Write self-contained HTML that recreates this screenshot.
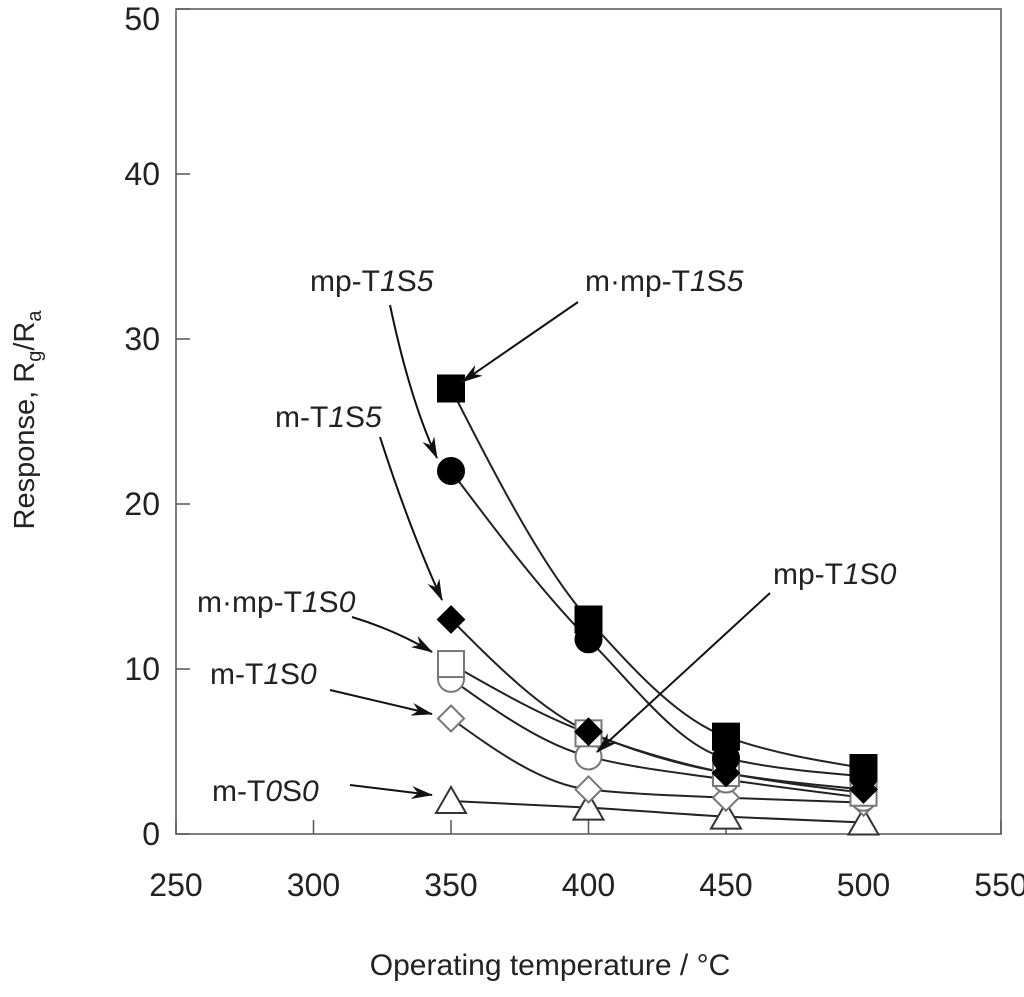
<!DOCTYPE html>
<html><head><meta charset="utf-8"><style>
html,body{margin:0;padding:0;background:#fff;}
svg{display:block;font-family:"Liberation Sans",Arial,sans-serif;}
</style></head><body>
<svg id="chart" width="1024" height="997" viewBox="0 0 1024 997" xmlns="http://www.w3.org/2000/svg">
<defs>
<marker id="ah" viewBox="0 0 20 12" refX="19" refY="6" markerWidth="22" markerHeight="13" markerUnits="userSpaceOnUse" orient="auto">
<path d="M0,0 L20,6 L0,12 L6,6 Z" fill="#111"/></marker>
</defs>
<rect x="176" y="9" width="825" height="825" fill="none" stroke="#555" stroke-width="1.5"/>
<g id="ticks"></g>
<g id="curves"></g>
<g id="marks"></g>
<text x="550" y="975" font-size="30" text-anchor="middle" fill="#222">Operating temperature / °C</text>
<text transform="translate(34,420) rotate(-90)" font-size="29" text-anchor="middle" fill="#222">Response, R<tspan font-size="20" dy="7">g</tspan><tspan dy="-7">/R</tspan><tspan font-size="20" dy="7">a</tspan></text>
<g font-size="30" fill="#222">
<text x="585" y="291">m·mp-T<tspan font-style="italic">1</tspan>S<tspan font-style="italic">5</tspan></text>
<text x="310" y="291">mp-T<tspan font-style="italic">1</tspan>S<tspan font-style="italic">5</tspan></text>
<text x="275" y="427">m-T<tspan font-style="italic">1</tspan>S<tspan font-style="italic">5</tspan></text>
<text x="197" y="612">m·mp-T<tspan font-style="italic">1</tspan>S<tspan font-style="italic">0</tspan></text>
<text x="210" y="684">m-T<tspan font-style="italic">1</tspan>S<tspan font-style="italic">0</tspan></text>
<text x="212" y="801">m-T<tspan font-style="italic">0</tspan>S<tspan font-style="italic">0</tspan></text>
<text x="773" y="584">mp-T<tspan font-style="italic">1</tspan>S<tspan font-style="italic">0</tspan></text>
</g>
<g stroke="#111" stroke-width="2" fill="none" marker-end="url(#ah)">
<path d="M578,302 L462,382"/>
<path d="M390,305 Q410,400 437,458"/>
<path d="M380,437 Q410,530 442,600"/>
<path d="M352,617 Q395,630 432,652"/>
<path d="M330,690 L432,714"/>
<path d="M350,785 L432,795"/>
<path d="M770,593 L597,752"/>
</g>
</svg>
<script>
const temps = [350, 400, 450, 500];
const seriesNames = ["m-T0S0","m-T1S0","mp-T1S0","m·mp-T1S0","m-T1S5","mp-T1S5","m·mp-T1S5"];
const mT0S0 = [2.0, 1.6, 1.05, 0.7];
const mT1S0 = [7.0, 2.7, 2.2, 1.9];
const mpT1S0 = [9.4, 4.7, 3.3, 2.2];
const mmpT1S0 = [10.3, 6.1, 3.7, 2.5];
const mT1S5 = [13.0, 6.2, 3.7, 2.7];
const mpT1S5 = [22.0, 11.8, 4.6, 3.5];
const mmpT1S5 = [27.0, 13.0, 5.9, 4.0];
const xTicks = [250, 300, 350, 400, 450, 500, 550];
const yTicks = [0, 10, 20, 30, 40, 50];

const NS = "http://www.w3.org/2000/svg";
const X = t => 176 + (t - 250) * 825 / 300;
const Y = v => 834 - v * 825 / 50;
function mk(tag, attrs, parent){const e=document.createElementNS(NS,tag);for(const k in attrs)e.setAttribute(k,attrs[k]);parent.appendChild(e);return e;}
const ticks=document.getElementById('ticks');
xTicks.forEach(t=>{
  const l=mk('line',{x1:X(t),x2:X(t),y1:834,y2:820,stroke:'#555','stroke-width':1.5},ticks);
  
  
  const s=mk('text',{x:X(t),y:896,'font-size':32,'text-anchor':'middle',fill:'#222'},ticks);
  s.textContent=t;
  
  
});
yTicks.forEach(v=>{
  const l=mk('line',{x1:176,x2:190,y1:Y(v),y2:Y(v),stroke:'#555','stroke-width':1.5},ticks);
  
  
  const s=mk('text',{x:160,y:Math.max(Y(v)+11,30),'font-size':32,'text-anchor':'end',fill:'#222'},ticks);
  s.textContent=v;
  
  
});
function curve(vals){
  const p=vals.map((v,i)=>[X(temps[i]),Y(v)]);
  const n=p.length, h=[], s=[], m=[];
  for(let i=0;i<n-1;i++){h.push(p[i+1][0]-p[i][0]);s.push((p[i+1][1]-p[i][1])/h[i]);}
  for(let i=1;i<n-1;i++){
    if(s[i-1]*s[i]<=0) m[i]=0;
    else { const w1=2*h[i]+h[i-1], w2=h[i]+2*h[i-1]; m[i]=(w1+w2)/(w1/s[i-1]+w2/s[i]); }
  }
  m[0]=1.5*s[0]-0.5*m[1];
  if(m[0]*s[0]<0) m[0]=0;
  m[n-1]=1.5*s[n-2]-0.5*m[n-2];
  if(m[n-1]*s[n-2]<0) m[n-1]=0;
  let d=`M${p[0][0]},${p[0][1]}`;
  for(let i=0;i<n-1;i++){
    const dx=h[i]/3;
    d+=` C${p[i][0]+dx},${p[i][1]+m[i]*dx} ${p[i+1][0]-dx},${p[i+1][1]-m[i+1]*dx} ${p[i+1][0]},${p[i+1][1]}`;
  }
  return d;
}
const all=[
 [mT0S0,'tri',false],[mT1S0,'dia',false],[mpT1S0,'cir',false],[mmpT1S0,'sq',false],
 [mT1S5,'dia',true],[mpT1S5,'cir',true],[mmpT1S5,'sq',true]];
const cg=document.getElementById('curves'), mg=document.getElementById('marks');
all.forEach(([vals],i)=>{
  const p=mk('path',{d:curve(vals),fill:'none',stroke:'#222','stroke-width':2},cg);
  
  
});
all.forEach(([vals,shape,filled],i)=>{
  vals.forEach((v,j)=>{
    const x=X(temps[j]),y=Y(v);
    const st={fill:filled?'#000':'#fff',stroke:filled?'#000':'#777','stroke-width':2};
    let e;
    if(shape==='sq') e=mk('rect',Object.assign({x:x-13,y:y-13,width:26,height:26},st),mg);
    else if(shape==='cir') e=mk('circle',Object.assign({cx:x,cy:y,r:13},st),mg);
    else if(shape==='dia') e=mk('path',Object.assign({d:`M${x},${y-13} L${x+13},${y} L${x},${y+13} L${x-13},${y} Z`},st),mg);
    else e=mk('path',Object.assign({d:`M${x},${y-14} L${x+15},${y+12} L${x-15},${y+12} Z`},{fill:'#fff',stroke:'#333','stroke-width':2}),mg);
    
    
  });
});
</script>
</body></html>
